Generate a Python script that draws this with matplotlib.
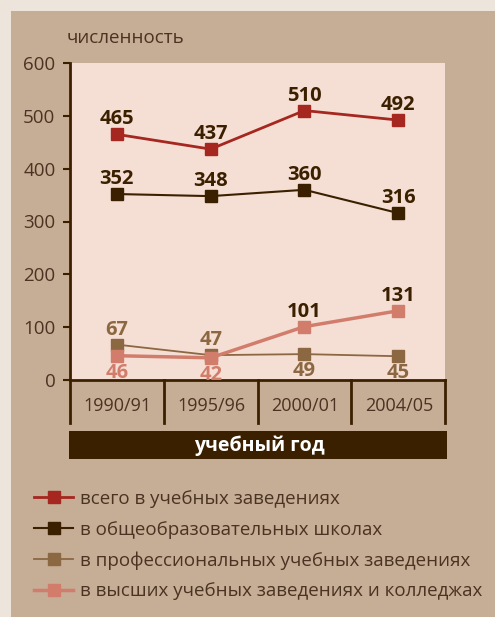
import matplotlib.pyplot as plt
from matplotlib.patches import Rectangle
from matplotlib.lines import Line2D

# ─── Data ────────────────────────────────────────────────────────────────────
years = ['1990/91', '1995/96', '2000/01', '2004/05']
total = [465, 437, 510, 492]
schools = [352, 348, 360, 316]
prof = [67, 47, 49, 45]
higher = [46, 42, 101, 131]
y_ticks = [0, 100, 200, 300, 400, 500, 600]

series_names = ['всего в учебных заведениях',
                'в общеобразовательных школах',
                'в профессиональных учебных заведениях',
                'в высших учебных заведениях и колледжах']

# ─── Colours ─────────────────────────────────────────────────────────────────
PAGE = '#EDE4DB'
TAN = '#C6AD96'
PINK = '#F5DFD5'
DARK = '#3B2000'
RED = '#A5271F'
BROWN = '#8B6841'
SALMON = '#D27D6C'
TEXT = '#4A3322'

plt.rcParams['font.family'] = ['Open Sans', 'DejaVu Sans']

W, H = 495, 617
fig = plt.figure(figsize=(W / 100, H / 100), dpi=100, facecolor=PAGE)
fig.patches.append(Rectangle((11 / W, 0), 1, 1 - 11 / H, transform=fig.transFigure,
                             facecolor=TAN, edgecolor='none', zorder=-5))

# axes: x 70..445 px, y 63..380 px
ax = fig.add_axes([70 / W, 1 - 380 / H, 375 / W, 317 / H])
ax.set_facecolor(PINK)
ax.set_xlim(-0.5, 3.5)
ax.set_ylim(0, 600)
for s in ['top', 'right']:
    ax.spines[s].set_visible(False)
ax.spines['left'].set_color(DARK)
ax.spines['left'].set_linewidth(2)
ax.spines['bottom'].set_color(DARK)
ax.spines['bottom'].set_linewidth(2)
ax.set_xticks([])
ax.set_yticks(y_ticks)
ax.tick_params(axis='y', length=5, width=1.5, color=DARK, labelsize=13.5,
               labelcolor=TEXT, pad=5.5)

x = range(len(years))
l1, = ax.plot(x, total, color=RED, lw=2, marker='s', ms=8.6, zorder=4, clip_on=False)
l2, = ax.plot(x, schools, color=DARK, lw=1.5, marker='s', ms=8.6, zorder=4, clip_on=False)
l3, = ax.plot(x, prof, color=BROWN, lw=1.3, marker='s', ms=8.6, zorder=3, clip_on=False)
l4, = ax.plot(x, higher, color=SALMON, lw=2.5, marker='s', ms=8.6, zorder=4, clip_on=False)

lab = dict(ha='center', fontsize=14.5, fontweight='bold', zorder=5)
UP, DOWN = 3.5, -5
for i, v in enumerate(total):
    ax.annotate(str(v), (i, v), xytext=(0, UP), textcoords='offset points',
                va='bottom', color=DARK, **lab)
for i, v in enumerate(schools):
    ax.annotate(str(v), (i, v), xytext=(0, UP), textcoords='offset points',
                va='bottom', color=DARK, **lab)
for i, v in enumerate(prof):
    up = i < 2
    ax.annotate(str(v), (i, v), xytext=(0, UP if up else DOWN), textcoords='offset points',
                va='bottom' if up else 'top', color=BROWN, **lab)
for i, v in enumerate(higher):
    up = i >= 2
    ax.annotate(str(v), (i, v), xytext=(0, UP if up else DOWN), textcoords='offset points',
                va='bottom' if up else 'top', color=DARK if up else SALMON, **lab)

# y-axis title
fig.text(67 / W, 1 - 38 / H, 'численность', ha='left', va='center',
         fontsize=13.5, color=TEXT)

# category cells under the axis
cell_bot = 1 - 423 / H
ax_bot = 1 - 380 / H
for b in [-0.5, 0.5, 1.5, 2.5, 3.5]:
    xf = (70 + (b + 0.5) * 93.75) / W
    fig.add_artist(Line2D([xf, xf], [cell_bot, ax_bot], transform=fig.transFigure,
                          color=DARK, lw=2))
for i, y in enumerate(years):
    xf = (70 + (i + 0.5) * 93.75 + 1) / W
    fig.text(xf, 1 - 406 / H, y, ha='center', va='center', fontsize=13, color=TEXT)

# dark bar with axis title
fig.patches.append(Rectangle((69 / W, 1 - 459 / H), 378 / W, 28 / H,
                             transform=fig.transFigure, facecolor=DARK,
                             edgecolor='none', zorder=1))
fig.text(259 / W, 1 - 446 / H, 'учебный год', ha='center', va='center',
         fontsize=14, fontweight='bold', color='white', zorder=2)

# legend
fig.legend([l1, l2, l3, l4], series_names, loc='upper left',
           bbox_to_anchor=(34 / W, 1 - 490 / H), frameon=False,
           borderaxespad=0, borderpad=0,
           fontsize=13.5, labelcolor=TEXT, handlelength=2.08, handletextpad=0.37,
           labelspacing=0.67, markerscale=1.0)

fig.savefig('out.png', dpi=100, facecolor=PAGE)
